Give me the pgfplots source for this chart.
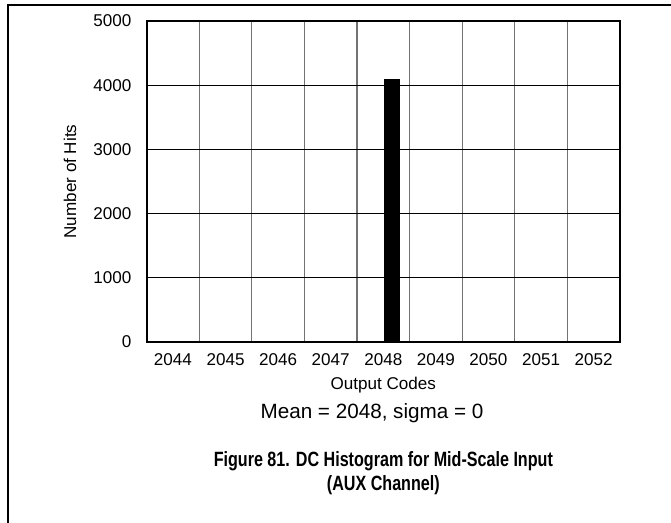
\documentclass[border=0pt]{standalone}
\usepackage{fontspec}
\setmainfont{Liberation Sans}
\newfontfamily\capfont[FakeStretch=0.78]{Liberation Sans}
\usepackage{pgfplots}
\pgfplotsset{compat=1.18}

\begin{document}
\begin{tikzpicture}
  % page is 671x523 px at 0.75pt per px
  \path[use as bounding box] (0,0) rectangle (503.25pt,-392.25pt);
  \draw[line width=1pt] (6pt,-392.25pt) -- (6pt,-3.75pt) -- (503.25pt,-3.75pt);

  \begin{axis}[
    at={(110pt,-256.5pt)}, anchor=south west,
    scale only axis,
    width=355pt, height=240.75pt,
    ybar, bar width=11.25pt, bar shift=6pt,
    xmin=2043.5, xmax=2052.5,
    ymin=0, ymax=5000,
    xtick={2044,...,2052},
    minor xtick={2044.5,...,2051.5},
    ytick={0,1000,...,5000},
    xminorgrids, ymajorgrids,
    major tick length=0pt, minor tick length=0pt,
    minor grid style={black!55, line width=0.8pt},
    major grid style={black, line width=0.8pt},
    axis line style={line width=1.4pt},
    /pgf/number format/assume math mode=true,
    /pgf/number format/1000 sep={},
    tick label style={font=\fontsize{12.8}{14}\selectfont},
    xticklabel style={yshift=-5pt},
    yticklabel style={xshift=-8pt},
    xlabel={Output Codes},
    ylabel={Number of Hits},
    label style={font=\fontsize{12.8}{14}\selectfont},
    xlabel style={yshift=-2pt},
    ylabel style={yshift=6pt},
  ]
    \addplot[fill=black, draw=black] coordinates {(2048,4096)};
  \end{axis}

  \node[font=\fontsize{15.5}{18}\selectfont] at (279pt,-309.75pt) {Mean = 2048, sigma = 0};
  \node[font=\capfont\bfseries\fontsize{15.5}{18}\selectfont, align=center] at (287.5pt,-354.75pt)
    {Figure 81. DC Histogram for Mid-Scale Input\\[0pt](AUX Channel)};
\end{tikzpicture}
\end{document}
